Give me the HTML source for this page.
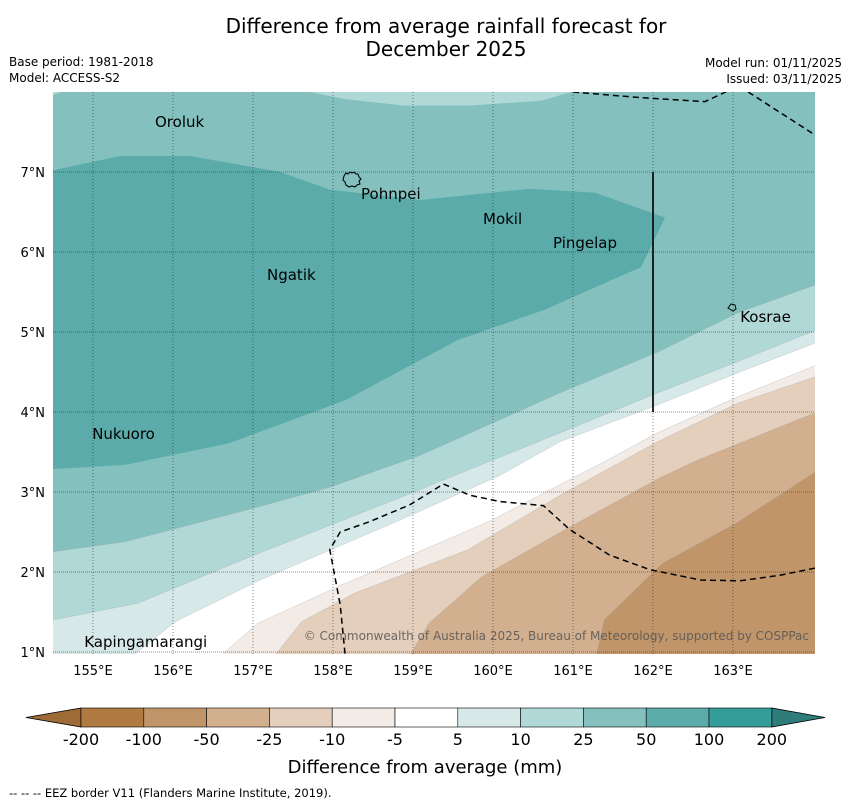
<!DOCTYPE html>
<html><head><meta charset="utf-8"><style>
body{margin:0;background:#fff;width:850px;height:804px;overflow:hidden;font-family:"DejaVu Sans","Liberation Sans",sans-serif}
svg{display:block}
</style></head><body>
<svg id="chart" width="850" height="804" viewBox="0 0 850 804" font-family="DejaVu Sans, Liberation Sans, sans-serif">
<text x="446" y="33" text-anchor="middle" font-size="20">Difference from average rainfall forecast for</text>
<text x="446" y="56" text-anchor="middle" font-size="20">December 2025</text>
<text x="9" y="66" font-size="12">Base period: 1981-2018</text>
<text x="9" y="82" font-size="12">Model: ACCESS-S2</text>
<text x="842" y="67" text-anchor="end" font-size="12">Model run: 01/11/2025</text>
<text x="842" y="83" text-anchor="end" font-size="12">Issued: 03/11/2025</text>
<defs><clipPath id="mapclip"><rect x="53" y="92" width="762" height="562"/></clipPath></defs>
<g id="map" clip-path="url(#mapclip)"></g>
<g id="axes"></g>
<g id="cbar"></g>
<text x="425" y="773" text-anchor="middle" font-size="18">Difference from average (mm)</text>
<text x="9" y="797" font-size="11.5">--  --  -- EEZ border V11 (Flanders Marine Institute, 2019).</text>
</svg>
<script>
// ---- data ----
const lonTicks=[155,156,157,158,159,160,161,162,163];
const latTicks=[1,2,3,4,5,6,7];
const cbarLevels=["-200","-100","-50","-25","-10","-5","5","10","25","50","100","200"];
const cbarColors=["#b07a43","#c0956a","#d2b08f","#e3cfbc","#f2ebe6","#ffffff","#d6e9e8","#b0d8d6","#84c1be","#5aabaa","#349d9a"];
const top10Lon=[157.46,158.16,158.89,159.69,160.6,161.15];
const top10Lat=[8.05,7.91,7.83,7.83,7.89,8.05];
const corner10Lon=[154.4,154.4,154.75];
const corner10Lat=[8.05,7.93,8.05];
const c50Lon=[154.4,155.41,156.7,158.16,159.56,160.65,161.21,161.85,162.15,161.28,160.46,159.09,157.96,157.34,156.21,155.34,154.4];
const c50Lat=[3.28,3.34,3.61,4.15,4.9,5.28,5.53,5.81,6.43,6.74,6.79,6.65,6.78,7.0,7.2,7.2,7.0];
const l25Lon=[154.4,155.41,156.94,157.96,159.09,160.84,162.06,163.06,164.2];
const l25Lat=[2.24,2.38,2.78,3.06,3.46,4.24,4.75,5.24,5.65];
const l10Lon=[154.4,155.56,156.94,158.84,160.84,162.06,163.06,164.2];
const l10Lat=[1.38,1.61,2.18,2.93,3.74,4.24,4.63,5.09];
const l5Lon=[155.4,155.53,156.03,157.09,158.84,160.09,160.84,162.06,163.06,164.2];
const l5Lat=[0.8,0.98,1.38,1.9,2.65,3.21,3.63,4.09,4.49,4.93];
const lm5Lon=[156.5,156.64,157.06,158.16,159.99,161.43,162.06,163.06,164.2];
const lm5Lat=[0.8,0.99,1.36,1.86,2.65,3.4,3.74,4.19,4.65];
const lm10Lon=[157.2,157.3,157.61,158.28,159.69,160.84,162.06,163.06,164.2];
const lm10Lat=[0.8,0.99,1.38,1.74,2.28,2.96,3.63,4.11,4.5];
const lm25Lon=[158.9,158.98,159.2,159.86,160.9,162.09,162.56,164.2];
const lm25Lat=[0.8,0.99,1.36,1.94,2.53,3.18,3.4,4.06];
const lm50Lon=[161.28,161.3,161.39,162.12,163.04,164.2];
const lm50Lat=[0.8,0.99,1.4,2.11,2.61,3.36];
const eezSLon=[158.15,158.09,157.96,158.09,158.46,158.96,159.38,159.71,160.09,160.63,160.96,161.46,161.96,162.59,163.09,163.59,164.03];
const eezSLat=[0.98,1.59,2.28,2.5,2.63,2.84,3.1,2.96,2.88,2.83,2.53,2.21,2.03,1.9,1.89,1.96,2.05];
const eezNLon=[161.0,161.84,162.65,162.95];
const eezNLat=[8.0,7.93,7.88,8.02];
const eezNELon=[163.19,164.03];
const eezNELat=[8.0,7.46];
const places=["Oroluk","Pohnpei","Mokil","Pingelap","Ngatik","Kosrae","Nukuoro","Kapingamarangi"];
const placeLon=[155.775,158.35,159.875,160.75,157.175,163.09,154.99,154.89];
const placeLat=[7.5625,6.66,6.35,6.05,5.65,5.125,3.66,1.06];

// ---- axes ----
const X=lon=>53+(lon-154.5)*80;
const Y=lat=>92+(8-lat)*80;
const NS="http://www.w3.org/2000/svg";
function mk(tag,attrs,parent){const e=document.createElementNS(NS,tag);for(const k in attrs)e.setAttribute(k,attrs[k]);parent.appendChild(e);return e;}
const map=document.getElementById('map');
const axes=document.getElementById('axes');
const cbar=document.getElementById('cbar');
function pts(lons,lats){return lons.map((l,i)=>X(l).toFixed(1)+','+Y(lats[i]).toFixed(1)).join(' ');}
function below(lons,lats){return pts(lons,lats)+' '+X(164.5)+','+Y(0.5)+' '+X(154)+','+Y(0.5);}

let r=mk('rect',{x:53,y:92,width:762,height:562,fill:cbarColors[8]},map);


let p=mk('polygon',{points:pts(top10Lon,top10Lat),fill:cbarColors[7]},map);


p=mk('polygon',{points:pts(corner10Lon,corner10Lat),fill:cbarColors[7]},map);


p=mk('polygon',{points:pts(c50Lon,c50Lat),fill:cbarColors[9]},map);


const bands=[[l25Lon,l25Lat,7,'band-10-25'],[l10Lon,l10Lat,6,'band-5-10'],[l5Lon,l5Lat,5,'band-neutral'],[lm5Lon,lm5Lat,4,'band-minus5-minus10'],[lm10Lon,lm10Lat,3,'band-minus10-minus25'],[lm25Lon,lm25Lat,2,'band-minus25-minus50'],[lm50Lon,lm50Lat,1,'band-minus50-minus100']];
bands.forEach(b=>{
  const e=mk('polygon',{points:below(b[0],b[1]),fill:cbarColors[b[2]],stroke:'rgba(150,150,150,0.35)','stroke-width':0.6},map);
  
  
});
lonTicks.forEach(l=>{
  const g=mk('line',{x1:X(l),x2:X(l),y1:92,y2:654,stroke:'#333','stroke-width':0.8,'stroke-dasharray':'1,2',opacity:0.75},map);
  
  
});
latTicks.forEach(l=>{
  const g=mk('line',{x1:53,x2:815,y1:Y(l),y2:Y(l),stroke:'#333','stroke-width':0.8,'stroke-dasharray':'1,1',opacity:0.75},map);
  
  
});
[[eezSLon,eezSLat,'eez-border-south'],[eezNLon,eezNLat,'eez-border-north'],[eezNELon,eezNELat,'eez-border-northeast']].forEach(e=>{
  const l=mk('polyline',{points:pts(e[0],e[1]),fill:'none',stroke:'#000','stroke-width':1.5,'stroke-dasharray':'6,4'},map);
  
  
});
let sl=mk('line',{x1:X(162),x2:X(162),y1:Y(7),y2:Y(4),stroke:'#111','stroke-width':1.8},map);


let isl=mk('path',{d:'M344,176 l2,-3 l2,1 l2,-2 l2,1 l2,-1 l2,2 l2,0 l1,3 l2,2 l-2,2 l1,3 l-3,1 l-2,2 l-3,-1 l-3,1 l-3,-2 l-1,-3 l-2,-2 z',fill:'none',stroke:'#000','stroke-width':1.1},map);


isl=mk('path',{d:'M728,308 l3,-4 l4,1 l1,4 l-3,2 z',fill:'none',stroke:'#000','stroke-width':1},map);


places.forEach((n,i)=>{
  const t=mk('text',{x:X(placeLon[i]),y:Y(placeLat[i]),'font-size':15,fill:'#000'},map);
  t.textContent=n;
  
  
});
let cp=mk('text',{x:809,y:640,'text-anchor':'end','font-size':12,fill:'#555','fill-opacity':0.85},map);
cp.textContent='© Commonwealth of Australia 2025, Bureau of Meteorology, supported by COSPPac';


lonTicks.forEach(l=>{
  const t=mk('text',{x:X(l),y:675,'text-anchor':'middle','font-size':13},axes);
  t.textContent=l+'°E';
  
  
});
latTicks.forEach(l=>{
  const t=mk('text',{x:45,y:Y(l)+5,'text-anchor':'end','font-size':13},axes);
  t.textContent=l+'°N';
  
  
});
const cx0=81,cw=62.8,cy=708,ch=19;
let tri=mk('polygon',{points:`26,717.5 ${cx0},${cy} ${cx0},${cy+ch}`,fill:'#9e6a35',stroke:'#000','stroke-width':0.8},cbar);


const cEnd=cx0+cw*cbarColors.length;
tri=mk('polygon',{points:`825,717.5 ${cEnd},${cy} ${cEnd},${cy+ch}`,fill:'#2f7d7a',stroke:'#000','stroke-width':0.8},cbar);


cbarColors.forEach((c,i)=>{
  const b=mk('rect',{x:cx0+cw*i,y:cy,width:cw,height:ch,fill:c,stroke:'#000','stroke-width':0.6},cbar);
  
  
});
cbarLevels.forEach((v,i)=>{
  const t=mk('text',{x:cx0+cw*i,y:745,'text-anchor':'middle','font-size':16},cbar);
  t.textContent=v;
  
  
});
</script>
</body></html>
